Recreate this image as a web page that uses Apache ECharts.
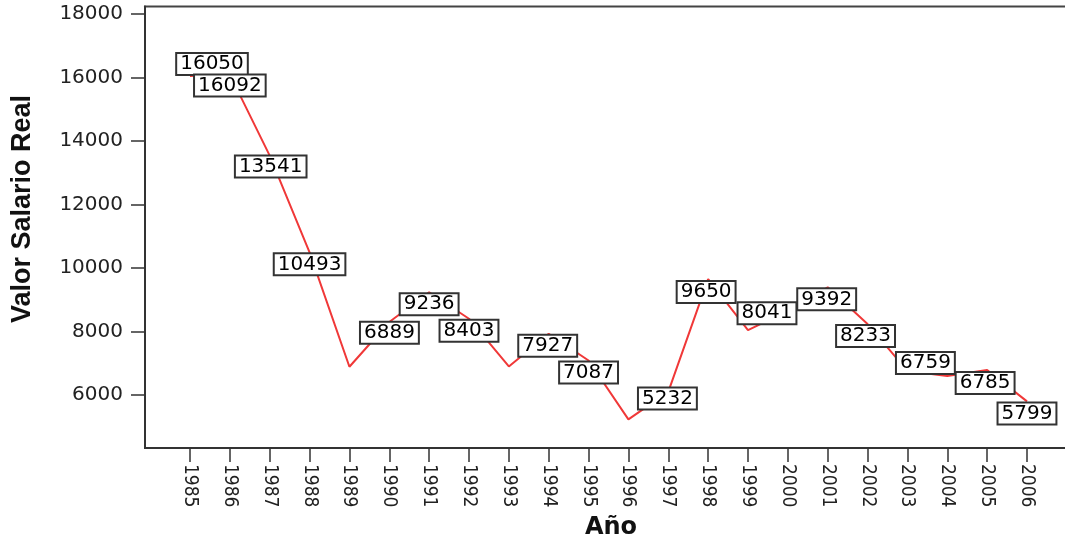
<!DOCTYPE html>
<html>
<head>
<meta charset="utf-8">
<title>Valor Salario Real</title>
<script src="https://cdn.jsdelivr.net/npm/echarts@6/dist/echarts.min.js"></script>
<style>
  html, body { margin: 0; padding: 0; background: #fff; }
  #grafico { width: 1065px; height: 536px; }
</style>
</head>
<body>
<div id="grafico"></div>
<script>
// datos
const anios = [1985, 1986, 1987, 1988, 1989, 1990, 1991, 1992, 1993, 1994, 1995,
  1996, 1997, 1998, 1999, 2000, 2001, 2002, 2003, 2004, 2005, 2006];
const salarioReal = [16050, 16092, 13541, 10493, 6889, 8300, 9236, 8403, 6900, 7927, 7087,
  5232, 6100, 9650, 8041, 8650, 9392, 8233, 6759, 6600, 6785, 5799];
// los puntos que llevan etiqueta en el original
const conEtiqueta = [true, true, true, true, true, false, true, true, false, true, true,
  true, false, true, true, false, true, true, true, false, true, true];
const marcasY = [6000, 8000, 10000, 12000, 14000, 16000, 18000];

// desplazamiento de cada etiqueta respecto a su punto (px)
const desplazamientos = [[22, -12], [0, 11], [1, 11], [0, 12], [40, -34], [0, 0], [0, 12], [0, 12], [0, 0], [-1, 12], [0, 12],
  [39, -21], [0, 0], [-2, 13], [19, -17], [0, 0], [-1, 12], [-2, 12], [18, -8], [0, 0], [-2, 13], [0, 12]];

const colorEje = "#333";

let chart = echarts.init(document.getElementById("grafico"));

chart.setOption({
  animation: false,
  grid: {
    left: 145,
    top: 6.5,
    right: -12,
    bottom: 88,
    outerBoundsMode: "none",
    containLabel: false,
    show: true,
    borderColor: "#444",
    borderWidth: 2,
  },
  xAxis: {
    type: "value",
    min: 1983.871,
    max: 2007.255,
    name: "Año",
    nameLocation: "middle",
    nameGap: 62,
    nameTextStyle: {
      fontFamily: "DejaVu Sans",
      fontWeight: "bold",
      fontSize: 24,
      color: "#111",
    },
    axisLine: { lineStyle: { color: colorEje, width: 2 } },
    axisTick: {
      customValues: anios,
      length: 14,
      lineStyle: { color: colorEje, width: 1.5 },
    },
    axisLabel: {
      customValues: anios,
      rotate: -90,
      margin: 16,
      fontFamily: "'Liberation Sans Narrow', 'DejaVu Sans Condensed', 'Liberation Sans', sans-serif",
      fontSize: 19,
      color: "#222",
      formatter: (v) => String(v),
    },
    splitLine: { show: false },
  },
  yAxis: {
    type: "value",
    min: 4331,
    max: 18236,
    axisLine: { show: true, lineStyle: { color: colorEje, width: 2 } },
    axisTick: {
      show: true,
      customValues: marcasY,
      length: 14,
      lineStyle: { color: colorEje, width: 1.5 },
    },
    axisLabel: {
      customValues: marcasY,
      margin: 22,
      fontFamily: "DejaVu Sans",
      fontSize: 20,
      color: "#222",
      formatter: (v) => String(v),
    },
    splitLine: { show: false },
  },
  graphic: [
    {
      type: "text",
      x: 23,
      y: 209,
      rotation: Math.PI / 2,
      style: {
        text: "Valor Salario Real",
        fontFamily: "Liberation Sans",
        fontWeight: "bold",
        fontSize: 27,
        fill: "#111",
        align: "center",
        verticalAlign: "middle",
      },
    },
  ],
  series: [
    {
      type: "line",
      symbol: "circle",
      symbolSize: 0,
      lineStyle: { color: "#f03838", width: 2 },
      itemStyle: { color: "#f03838" },
      label: {
        show: true,
        position: "inside",
        fontFamily: "DejaVu Sans",
        fontSize: 20,
        lineHeight: 18,
        color: "#000",
        backgroundColor: "#fff",
        borderColor: "#333",
        borderWidth: 2,
        padding: [1, 3, 1, 3],
      },
      data: anios.map((a, i) => ({
        value: [a, salarioReal[i]],
        label: conEtiqueta[i]
          ? { offset: desplazamientos[i] }
          : { show: false },
      })),
    },
  ],
});
</script>
</body>
</html>
